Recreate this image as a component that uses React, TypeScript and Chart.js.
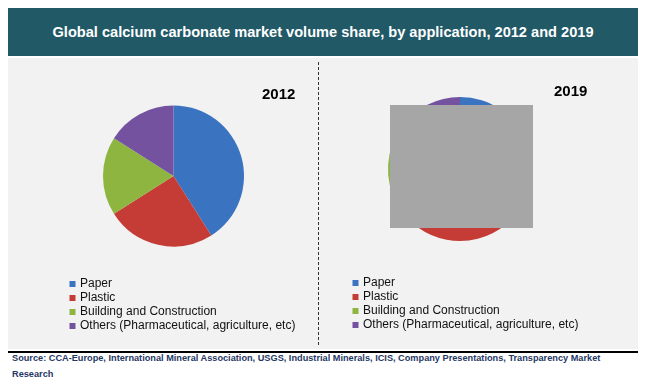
import React, { useEffect, useRef } from "react";
import { Chart, registerables } from "chart.js";

Chart.register(...registerables);

const FONT = "'Liberation Sans', Arial, Helvetica, sans-serif";

const TITLE = "Global calcium carbonate market volume share, by application, 2012 and 2019";
const categories = [
  "Paper",
  "Plastic",
  "Building and Construction",
  "Others (Pharmaceutical, agriculture, etc)",
];
const share2012 = [41, 25, 18, 16];
const share2019 = [39, 28, 18, 15];
const colors = ["#3a73bf", "#c43c35", "#8db53f", "#7552a0"];
const yearLabels = ["2012", "2019"];
const sourceLines = [
  "Source: CCA-Europe, International Mineral Association, USGS, Industrial Minerals, ICIS, Company Presentations, Transparency Market",
  "Research",
];

type Pad = { left: number; right: number; top: number; bottom: number };

function PieCanvas({ values, width, height, padding }: { values: number[]; width: number; height: number; padding: Pad }) {
  const ref = useRef<HTMLCanvasElement | null>(null);
  useEffect(() => {
    if (!ref.current) return;
    const chart = new Chart(ref.current, {
      type: "pie",
      data: {
        labels: categories,
        datasets: [
          {
            data: values,
            backgroundColor: colors,
            borderWidth: 0,
            hoverOffset: 0,
          },
        ],
      },
      options: {
        responsive: false,
        animation: false,
        layout: { padding },
        plugins: { legend: { display: false }, tooltip: { enabled: false } },
      },
    });
    return () => chart.destroy();
  }, []);
  return <canvas ref={ref} width={width} height={height} style={{ width, height, display: "block" }} />;
}

function LegendCanvas({ values, width, height }: { values: number[]; width: number; height: number }) {
  const ref = useRef<HTMLCanvasElement | null>(null);
  useEffect(() => {
    if (!ref.current) return;
    const chart = new Chart(ref.current, {
      type: "pie",
      data: {
        labels: categories,
        datasets: [
          {
            data: values,
            backgroundColor: colors,
            borderWidth: 0,
            hoverOffset: 0,
          },
        ],
      },
      options: {
        responsive: false,
        animation: false,
        radius: 0,
        layout: { padding: 0 },
        plugins: {
          tooltip: { enabled: false },
          legend: {
            display: true,
            position: "left",
            align: "start",
            maxWidth: 270,
            labels: {
              usePointStyle: true,
              pointStyle: "rect",
              boxWidth: 3,
              boxHeight: 6,
              padding: 2,
              color: "#111111",
              font: { family: FONT, size: 12 },
            },
          },
        },
      },
    });
    return () => chart.destroy();
  }, []);
  return <canvas ref={ref} width={width} height={height} style={{ width, height, display: "block" }} />;
}

export default function App() {
  const abs = (l: number, t: number, w?: number, h?: number): React.CSSProperties => ({
    position: "absolute",
    left: l,
    top: t,
    width: w,
    height: h,
  });
  return (
    <div style={{ position: "relative", width: 630, height: 372, fontFamily: FONT }}>
      <div
        style={{
          ...abs(0, 0, 630, 48),
          background: "#215967",
          color: "#ffffff",
          fontWeight: "bold",
          fontSize: 14.6,
          lineHeight: "48px",
          textAlign: "center",
          whiteSpace: "nowrap",
        }}
      >
        {TITLE}
      </div>
      <div style={{ ...abs(0, 50, 630, 291), background: "#f2f2f2" }} />
      <div style={{ ...abs(310, 54, 0, 283), borderLeft: "1px dashed #333333" }} />
      <div style={abs(0, 50, 310, 212)}>
        <PieCanvas values={share2012} width={310} height={212} padding={{ left: 95, right: 74, top: 47.5, bottom: 23.5 }} />
      </div>
      <div style={abs(310, 50, 320, 212)}>
        <PieCanvas values={share2019} width={320} height={212} padding={{ left: 70, right: 106, top: 39, bottom: 29 }} />
      </div>
      <div style={{ ...abs(382, 97, 143, 123), background: "#a6a6a6" }} />
      <div style={{ ...abs(254, 77), fontWeight: "bold", fontSize: 15, lineHeight: "18px", color: "#000" }}>{yearLabels[0]}</div>
      <div style={{ ...abs(546, 74), fontWeight: "bold", fontSize: 15, lineHeight: "18px", color: "#000" }}>{yearLabels[1]}</div>
      <div style={abs(61, 268, 248, 70)}>
        <LegendCanvas values={share2012} width={248} height={70} />
      </div>
      <div style={abs(344, 267, 282, 70)}>
        <LegendCanvas values={share2019} width={282} height={70} />
      </div>
      <div style={{ ...abs(0, 343, 630, 2), background: "#000000" }} />
      <div
        style={{
          ...abs(4, 342, 626),
          fontWeight: "bold",
          fontSize: 9.2,
          lineHeight: "16px",
          color: "#1f3864",
          whiteSpace: "nowrap",
        }}
      >
        {sourceLines[0]}
        <br />
        {sourceLines[1]}
      </div>
    </div>
  );
}
